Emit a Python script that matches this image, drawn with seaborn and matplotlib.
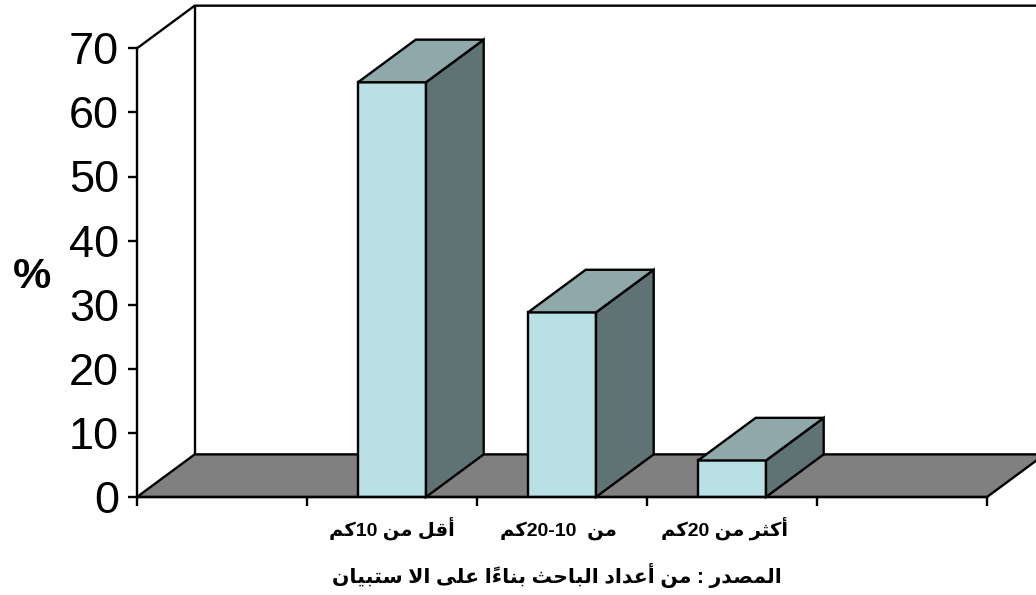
"""3D style bar chart of distance shares, drawn with seaborn bars plus depth faces."""
import re
import numpy as np
import pandas as pd
import matplotlib
matplotlib.use("Agg")
import matplotlib.pyplot as plt
import seaborn as sns
from matplotlib.patches import Polygon

# --- Data ---
categories = ["", "أقل من 10كم", "من  10-20كم", "أكثر من 20كم", " "]
values = [np.nan, 64.7, 28.8, 5.7, np.nan]
y_ticks = [0, 10, 20, 30, 40, 50, 60, 70]
source_text = "المصدر : من أعداد الباحث بناءاً على الا ستبيان"

# --- Arabic helper: matplotlib has no shaping, so map to presentation forms ---
FOUR_FORMS = {"ب": 0xFE8F, "ت": 0xFE95, "ث": 0xFE99, "ح": 0xFEA1, "س": 0xFEB1, "ص": 0xFEB9,
              "ع": 0xFEC9, "ق": 0xFED5, "ك": 0xFED9, "ل": 0xFEDD, "م": 0xFEE1, "ن": 0xFEE5,
              "ي": 0xFEF1}
TWO_FORMS = {"ا": 0xFE8D, "أ": 0xFE83, "د": 0xFEA9, "ر": 0xFEAD, "ى": 0xFEEF}
MARK = "\u064B"

def shape_arabic(text):
    letters = [c for c in text]
    out = []
    skip = False
    for i, c in enumerate(letters):
        if skip:
            skip = False
            continue
        if c == MARK:
            out.append(c)
            continue
        if c == "ء":
            out.append("\uFE80")
            continue
        if c not in FOUR_FORMS and c not in TWO_FORMS:
            out.append(c)
            continue
        prev = letters[i - 1] if i > 0 else ""
        nxt = letters[i + 1] if i + 1 < len(letters) else ""
        joins_prev = prev in FOUR_FORMS
        # lam + alef is one ligature
        if c == "ل" and nxt == "ا":
            out.append("\uFEFC" if joins_prev else "\uFEFB")
            skip = True
            continue
        joins_next = c in FOUR_FORMS and (nxt in FOUR_FORMS or nxt in TWO_FORMS)
        if c in TWO_FORMS:
            out.append(chr(TWO_FORMS[c] + (1 if joins_prev else 0)))
        else:
            out.append(chr(FOUR_FORMS[c] + (2 + joins_prev if joins_next else joins_prev)))
    # visual order, digit runs stay left to right and a mark stays behind its letter
    tokens = re.findall(r"\d+|.\u064B|.", "".join(out))
    return "".join(tokens[::-1])

# --- Plot ---
sns.set_style("white")
plt.rcParams["font.family"] = ["Liberation Sans", "DejaVu Sans"]
plt.rcParams["text.color"] = "black"
plt.rcParams["xtick.color"] = "black"
plt.rcParams["ytick.color"] = "black"

fig = plt.figure(figsize=(10.36, 5.95), dpi=100)
ax = fig.add_axes([137 / 1036, 1 - 497 / 595, 850 / 1036, 448.7 / 595])

df = pd.DataFrame({"category": categories, "value": values})
sns.barplot(data=df, x="category", y="value", order=categories, width=0.4, color="#B9E0E4",
            saturation=1, edgecolor="black", linewidth=1.7, ax=ax, zorder=3)
bars = [b for b in ax.patches if np.isfinite(b.get_height()) and b.get_height() > 0]

ax.set_xlim(-0.5, 4.5)
ax.set_ylim(0, 70)
depth_x = 57.7 / 170
depth_y = 6.65
line_w = 1.7

# back wall and floor
ax.plot([-0.5, -0.5 + depth_x, 4.5 + depth_x], [70, 70 + depth_y, 70 + depth_y],
        color="black", lw=line_w, clip_on=False, zorder=1)
ax.plot([-0.5 + depth_x] * 2, [depth_y, 70 + depth_y], color="black", lw=line_w, clip_on=False, zorder=1)
ax.add_patch(Polygon([(-0.5, 0), (-0.5 + depth_x, depth_y), (4.5 + depth_x, depth_y), (4.5, 0)],
                     facecolor="#808080", edgecolor="black", lw=line_w, clip_on=False, zorder=1.5))

# depth faces from the bars seaborn drew
for bar in bars:
    h = bar.get_height()
    x0 = bar.get_x()
    x1 = x0 + bar.get_width()
    ax.add_patch(Polygon([(x1, 0), (x1 + depth_x, depth_y), (x1 + depth_x, h + depth_y), (x1, h)],
                         facecolor="#5F7274", edgecolor="black", lw=line_w, clip_on=False, zorder=3))
    ax.add_patch(Polygon([(x0, h), (x0 + depth_x, h + depth_y), (x1 + depth_x, h + depth_y), (x1, h)],
                         facecolor="#8FA8AA", edgecolor="black", lw=line_w, clip_on=False, zorder=3))

sns.despine(ax=ax)
for side in ["left", "bottom"]:
    ax.spines[side].set_color("black")
    ax.spines[side].set_linewidth(line_w)
    ax.spines[side].set_zorder(4)

ax.set_yticks(y_ticks)
ax.tick_params(axis="y", left=True, length=6.5, width=line_w, color="black", labelsize=32.5, pad=6.5)
ax.set_xticks(np.arange(-0.5, 5), labels=[""] * 6)
ax.tick_params(axis="x", which="major", bottom=True, length=6.5, width=line_w, color="black")
# label centres sit a little left of the bars in the source chart
ax.set_xticks([1, 1.98, 2.956], labels=[shape_arabic(c) for c in categories[1:4]], minor=True)
ax.tick_params(axis="x", which="minor", bottom=False, length=0, labelsize=14, pad=28)
for lab in ax.get_xticklabels(minor=True):
    lab.set_fontweight("bold")
    lab.set_verticalalignment("baseline")
ax.set_xlabel("")
ax.set_ylabel("")

fig.text(31.5 / 1036, 1 - 277 / 595, "%", fontsize=31, fontweight="bold", ha="center", va="center")
fig.text(557 / 1036, 1 - 575 / 595, shape_arabic(source_text), fontsize=14.7, fontweight="bold",
         ha="center", va="center")

fig.savefig("out.png", dpi=100)
